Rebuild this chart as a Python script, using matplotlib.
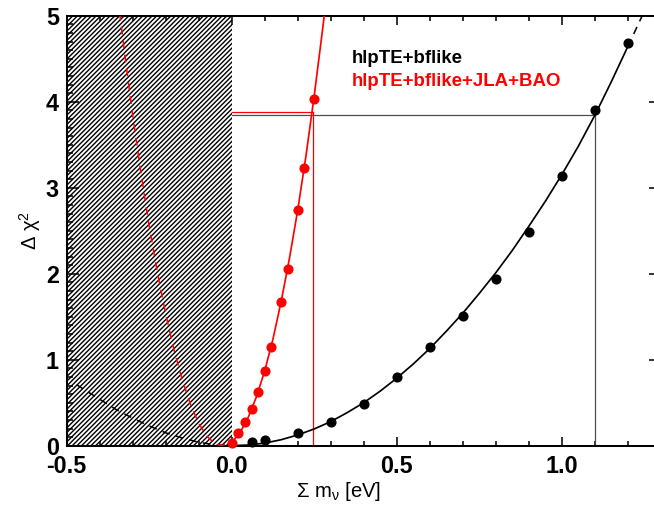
import numpy as np
import matplotlib
matplotlib.use('Agg')
import matplotlib.pyplot as plt
from matplotlib.ticker import MultipleLocator, FormatStrFormatter

plt.rcParams['font.family'] = ['Liberation Sans', 'DejaVu Sans']
plt.rcParams['mathtext.fontset'] = 'custom'
plt.rcParams['mathtext.rm'] = 'Liberation Sans'
plt.rcParams['mathtext.it'] = 'Liberation Sans:italic'
plt.rcParams['axes.unicode_minus'] = False
plt.rcParams['hatch.linewidth'] = 0.9

# profile likelihood points
mnu_black = [0.06, 0.1, 0.2, 0.3, 0.4, 0.5, 0.6, 0.7, 0.8, 0.9, 1.0, 1.1, 1.2]
dchi_black = [0.04, 0.07, 0.15, 0.28, 0.49, 0.80, 1.15, 1.51, 1.94, 2.49, 3.14, 3.90, 4.68]
mnu_red = [0.0, 0.02, 0.04, 0.06, 0.08, 0.10, 0.12, 0.15, 0.17, 0.20, 0.22, 0.25]
dchi_red = [0.03, 0.15, 0.27, 0.43, 0.62, 0.87, 1.15, 1.67, 2.06, 2.74, 3.23, 4.03]

# fitted curves
fit_black_x = [-0.47, -0.45, -0.40, -0.35, -0.30, -0.25, -0.20, -0.15, -0.10, -0.05,
               0.00, 0.05, 0.10, 0.15, 0.20, 0.25, 0.30, 0.35, 0.40, 0.45, 0.50,
               0.55, 0.60, 0.65, 0.70, 0.75, 0.80, 0.85, 0.90, 0.95, 1.00,
               1.05, 1.10, 1.15, 1.20, 1.25]
fit_black_y = [0.71, 0.66, 0.54, 0.42, 0.32, 0.23, 0.15, 0.09, 0.04, 0.01,
               0.00, 0.008, 0.03, 0.07, 0.125, 0.195, 0.28, 0.385, 0.50, 0.635, 0.785,
               0.95, 1.13, 1.33, 1.54, 1.77, 2.01, 2.27, 2.55, 2.84, 3.15,
               3.48, 3.84, 4.23, 4.64, 5.05]
fit_red_x = [-0.345, -0.325, -0.30, -0.275, -0.25, -0.225, -0.20, -0.175, -0.15, -0.125,
             -0.10, -0.075, -0.05, -0.03, 0.0, 0.025, 0.05, 0.075, 0.10, 0.125,
             0.15, 0.175, 0.20, 0.225, 0.25, 0.275, 0.285]
fit_red_y = [5.2, 4.58, 3.84, 3.17, 2.55, 2.01, 1.53, 1.115, 0.77, 0.48,
             0.26, 0.11, 0.02, 0.0, 0.04, 0.15, 0.33, 0.57, 0.87, 1.24,
             1.68, 2.18, 2.74, 3.37, 4.07, 4.83, 5.15]

# 95% limits
lim_black, dchi_lim_black = 1.10, 3.84
lim_red, dchi_lim_red = 0.245, 3.88

labels = ['hlpTE+bflike', 'hlpTE+bflike+JLA+BAO']

fig = plt.figure(figsize=(654 / 112, 505 / 112), dpi=112)
ax = fig.add_axes([0.102, 0.1174, 0.9083, 0.8515])

ax.axvspan(-0.5, 0.0, facecolor='white', edgecolor='black', hatch='////////',
           linewidth=0, zorder=1)

bx = np.array(fit_black_x)
by = np.array(fit_black_y)
rx = np.array(fit_red_x)
ry = np.array(fit_red_y)

m = bx <= 0
ax.plot(bx[m], by[m], color='black', lw=1.0, dashes=(5, 4), zorder=3)
m = (bx >= 0) & (bx <= 1.2)
ax.plot(bx[m], by[m], color='black', lw=1.1, zorder=3)
m = bx >= 1.2
ax.plot(bx[m], by[m], color='black', lw=1.0, dashes=(5, 4), zorder=3)

m = rx <= 0
ax.plot(rx[m], ry[m], color='red', lw=1.0, dashes=(5, 4), zorder=3)
m = rx >= 0
ax.plot(rx[m], ry[m], color='red', lw=1.1, zorder=3)

ax.plot(mnu_black, dchi_black, 'o', color='black', ms=5.5, zorder=4, clip_on=False)
ax.plot(mnu_red, dchi_red, 'o', color='red', ms=5.5, zorder=4, clip_on=False)

ax.plot([0, lim_black], [dchi_lim_black, dchi_lim_black], color='0.3', lw=0.8, zorder=2)
ax.plot([lim_black, lim_black], [0, dchi_lim_black], color='0.3', lw=0.8, zorder=2)
ax.plot([0, lim_red], [dchi_lim_red, dchi_lim_red], color='red', lw=0.8, zorder=2)
ax.plot([lim_red, lim_red], [0, dchi_lim_red], color='red', lw=0.8, zorder=2)

ax.text(0.480, 0.891, labels[0], color='black', fontsize=12, fontweight='bold',
        transform=ax.transAxes, va='baseline')
ax.text(0.480, 0.836, labels[1], color='red', fontsize=12, fontweight='bold',
        transform=ax.transAxes, va='baseline')

ax.set_xlim(-0.5, 1.3)
ax.set_ylim(0, 5)
ax.xaxis.set_major_locator(MultipleLocator(0.5))
ax.xaxis.set_minor_locator(MultipleLocator(0.1))
ax.yaxis.set_major_locator(MultipleLocator(1))
ax.yaxis.set_minor_locator(MultipleLocator(0.1))
ax.xaxis.set_major_formatter(FormatStrFormatter('%.1f'))
ax.tick_params(which='both', direction='in', top=True, right=True, width=1.0)
ax.tick_params(axis='x', which='major', length=6, pad=6)
ax.tick_params(axis='x', which='minor', length=3.5)
ax.tick_params(axis='y', which='major', length=8, pad=5)
ax.tick_params(axis='y', which='minor', length=4)
for lab in ax.get_xticklabels() + ax.get_yticklabels():
    lab.set_fontsize(15)
    lab.set_fontweight('bold')
for lab in ax.get_yticklabels():
    lab.set_verticalalignment('center_baseline')
for s in ax.spines.values():
    s.set_linewidth(1.3)

ax.text(0.458, -0.107, 'Σ m$_{\\mathrm{\\nu}}$ [eV]', fontsize=13,
        transform=ax.transAxes, ha='center', va='center')
ax.text(-0.062, 0.5, 'Δ χ$^{2}$', fontsize=13, rotation=90,
        transform=ax.transAxes, ha='center', va='center')

fig.savefig('out.png', dpi=112)
